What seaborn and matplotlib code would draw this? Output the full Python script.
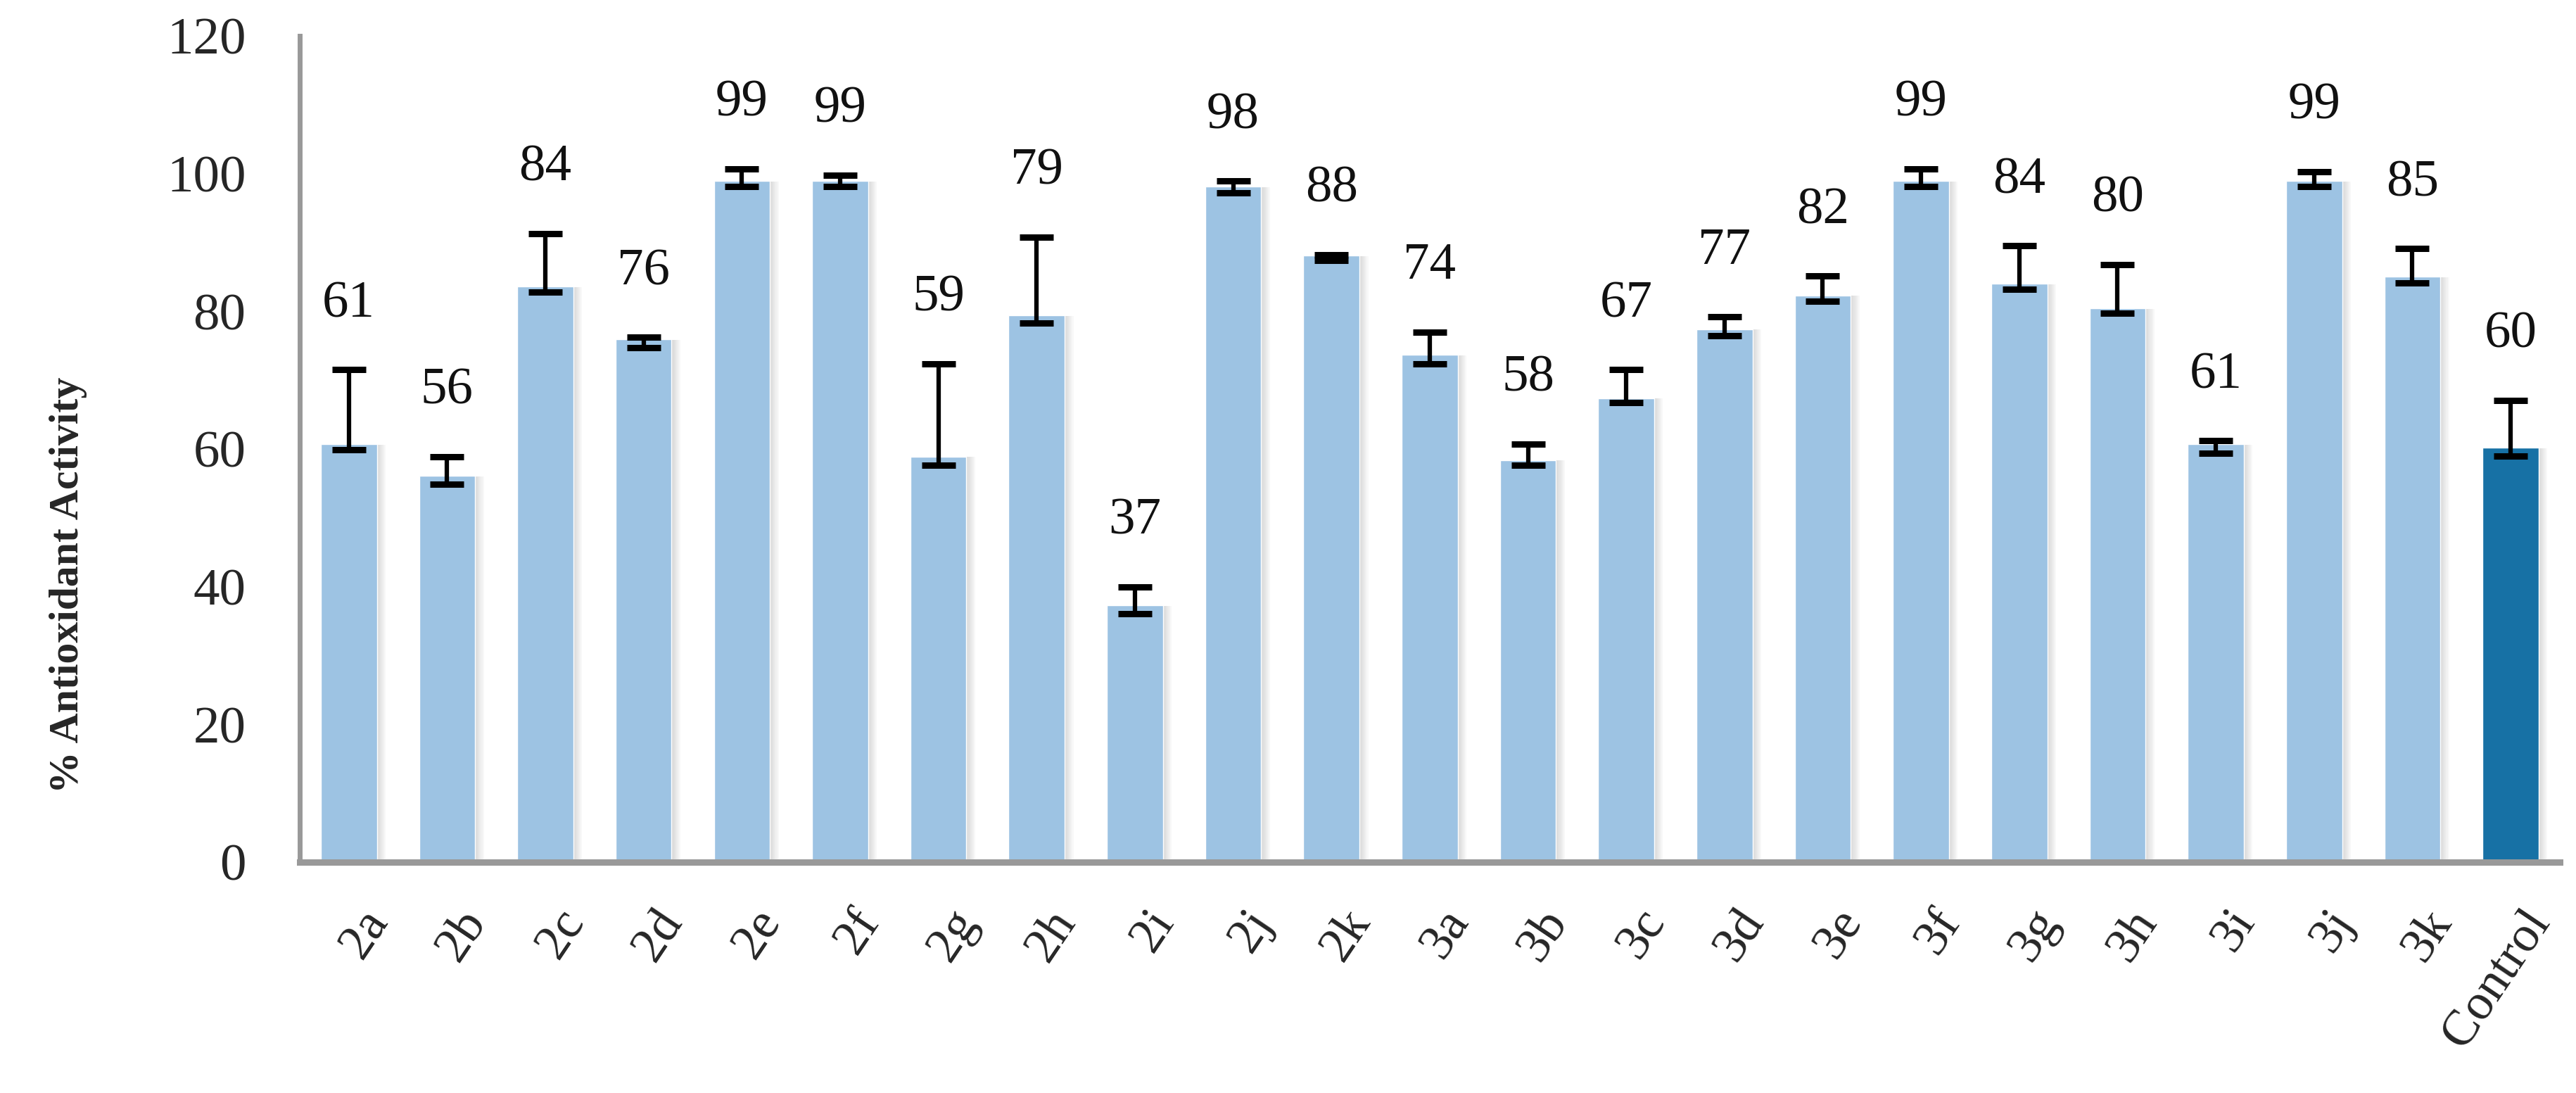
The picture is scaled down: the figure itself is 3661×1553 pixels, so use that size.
import matplotlib
matplotlib.use('Agg')
import matplotlib.pyplot as plt
import matplotlib.patheffects as pe
import matplotlib.transforms as mtransforms
import pandas as pd
import seaborn as sns

compounds = ['2a', '2b', '2c', '2d', '2e', '2f', '2g', '2h', '2i', '2j', '2k',
             '3a', '3b', '3c', '3d', '3e', '3f', '3g', '3h', '3i', '3j', '3k', 'Control']
activity = [60.7, 56.1, 83.6, 75.9, 98.9, 98.9, 58.9, 79.4, 37.3, 98.1, 88.1,
            73.7, 58.4, 67.4, 77.4, 82.3, 98.9, 84.0, 80.4, 60.7, 98.9, 85.0, 60.2]
# error bar ends (lower / upper cap)
cap_low = [59.9, 54.9, 82.8, 74.7, 98.1, 98.1, 57.6, 78.3, 36.1, 97.2, 87.4,
           72.4, 57.6, 66.7, 76.5, 81.5, 98.1, 83.2, 79.7, 59.4, 98.1, 84.1, 59.0]
cap_high = [71.5, 58.9, 91.3, 76.2, 100.7, 99.8, 72.4, 90.8, 40.0, 98.9, 88.2,
            77.0, 60.7, 71.5, 79.2, 85.1, 100.7, 89.5, 86.8, 61.2, 100.3, 89.1, 67.1]

light_blue = '#9DC3E3'
dark_blue = '#1771A5'

df = pd.DataFrame({'compound': compounds, 'activity': activity})
palette = {c: (dark_blue if c == 'Control' else light_blue) for c in compounds}

sns.set_style('white')
plt.rcParams['font.family'] = ['Liberation Serif', 'DejaVu Serif']

fig = plt.figure(figsize=(36.62, 15.53), dpi=100)
ax = fig.add_axes([0.1163, 0.2112, 0.8771, 0.7560])

sns.barplot(data=df, x='compound', y='activity', hue='compound', palette=palette,
            width=0.57, legend=False, saturation=1, ax=ax, zorder=2)

# soft drop shadow on the bars
shadow = [pe.SimplePatchShadow(offset=(k, -0.5), shadow_rgbFace='#808080', alpha=0.05)
          for k in (1.5, 3, 4.5, 6, 7.5, 9)]
for patch in ax.patches:
    patch.set_path_effects(shadow + [pe.Normal()])

x = list(range(len(compounds)))
lower = [max(a - lo, 0) for a, lo in zip(activity, cap_low)]
upper = [max(hi - a, 0) for a, hi in zip(activity, cap_high)]
ax.errorbar(x, activity, yerr=[lower, upper], fmt='none', ecolor='black',
            elinewidth=4.5, capsize=17.5, capthick=6.5, zorder=3)

for xi, hi, val in zip(x, cap_high, activity):
    ax.text(xi, hi + 9.5, f'{val:.0f}', ha='center', va='center', fontsize=54, color='#111111')

ax.set_xlim(-0.5, len(compounds) - 0.5)
ax.set_ylim(0, 120)
ax.set_yticks(range(0, 121, 20))
ax.set_xlabel('')
ax.set_ylabel('% Antioxidant Activity', fontsize=43, fontweight='bold')
ax.yaxis.set_label_coords(-0.094, 0.335)

for side in ['top', 'right']:
    ax.spines[side].set_visible(False)
ax.spines['left'].set_color('#999999')
ax.spines['left'].set_linewidth(5)
ax.spines['bottom'].set_color('#999999')
ax.spines['bottom'].set_linewidth(6.5)

ax.tick_params(axis='y', length=0, pad=55, labelsize=54)
ax.tick_params(axis='x', length=0, pad=40, labelsize=52)
offset = mtransforms.ScaledTranslation(0.15, 0, fig.dpi_scale_trans)
for lab in ax.get_xticklabels():
    lab.set_rotation(56)
    lab.set_ha('right')
    lab.set_va('top')
    lab.set_rotation_mode('anchor')
    lab.set_transform(lab.get_transform() + offset)

fig.savefig('out.png', dpi=100, facecolor='white')
